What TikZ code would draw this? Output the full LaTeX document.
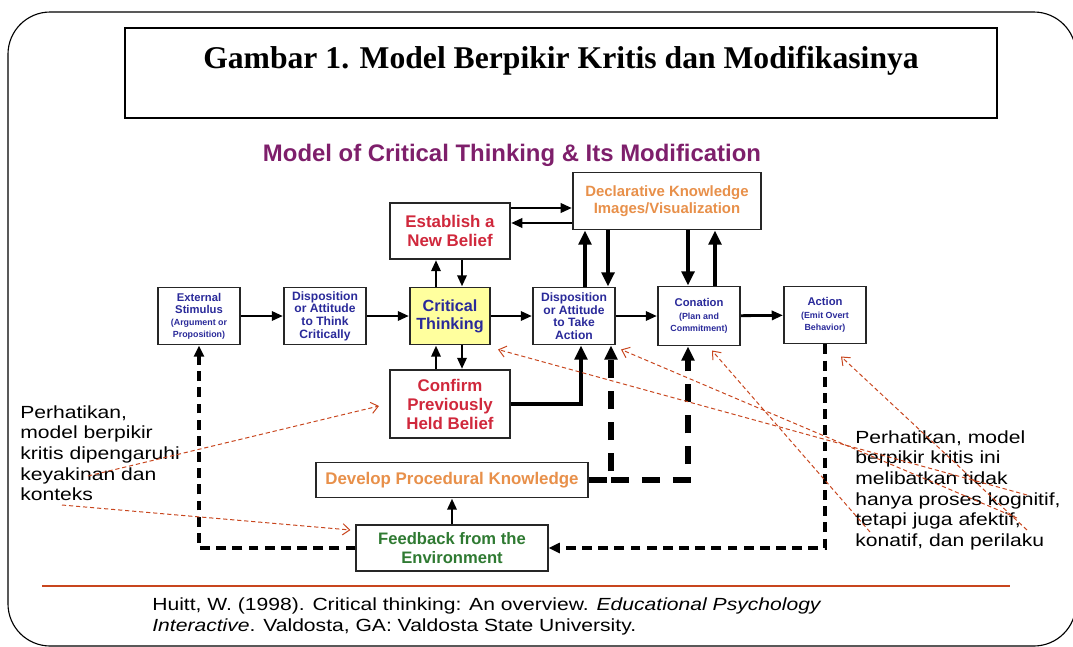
\documentclass[tikz,border=0pt]{standalone}
\usepackage{fontspec}
\setmainfont{Liberation Serif}
\setsansfont{Liberation Sans}
\usetikzlibrary{arrows.meta,calc,positioning}
\definecolor{boxblue}{HTML}{2A2A9A}
\definecolor{boxred}{HTML}{D0283C}
\definecolor{boxorange}{HTML}{E8904A}
\definecolor{boxgreen}{HTML}{2F7A32}
\definecolor{subpurple}{HTML}{7E1F6B}
\definecolor{ctyellow}{HTML}{FFFF9E}
\definecolor{notered}{HTML}{C8461E}
\newcommand{\tinyl}[1]{{\fontsize{6.3}{7}\selectfont #1}}

\begin{document}
\begin{tikzpicture}[x=0.025cm, y=-0.025cm,
  box/.style={draw=black!85, line width=1.4pt, fill=white, align=center, inner sep=1pt},
  sbox/.style={box, minimum width=2.05cm, minimum height=1.425cm, text=boxblue,
    font=\sffamily\bfseries\fontsize{8.6}{9}\selectfont},
  bbox/.style={box, minimum width=3cm, text=boxred,
    font=\sffamily\bfseries\fontsize{12}{13.5}\selectfont},
  arr/.style={line width=2pt, -{Triangle[length=8pt,width=6.5pt]}},
  fat/.style={line width=3.4pt, -{Triangle[length=10pt,width=9pt]}},
  fbloop/.style={line width=2.6pt, dash pattern=on 7pt off 4.5pt, -{Triangle[length=8pt,width=7pt]}},
  pdash/.style={line width=4pt, dash pattern=on 13pt off 9pt, -{Triangle[length=10pt,width=9pt]}},
  note/.style={color=notered, line width=0.7pt, dash pattern=on 3pt off 2pt, -{Straight Barb[length=5pt,width=8pt]}},
  ntext/.style={font=\sffamily\fontsize{12.5}{14.7}\selectfont, align=left, anchor=north west, inner sep=0pt, xscale=1.2}
]
\useasboundingbox (0,0) rectangle (1073,646);
\draw[line width=0.8pt, rounded corners=30] (8,646) rectangle (1076,12);
\draw[line width=1.3pt] (125,28) rectangle (997,118);
\node (title) at (561,61) {\fontsize{22.5}{26}\selectfont\bfseries Gambar 1. Model Berpikir Kritis dan Modifikasinya};
\node[text=subpurple, font=\sffamily\bfseries\fontsize{17}{19}\selectfont] (sub) at (512,155) {Model of Critical Thinking \& Its Modification};

% model boxes
\node[sbox, font=\sffamily\bfseries\fontsize{8}{8.6}\selectfont] (es) at (199,316) {External\\Stimulus\\\tinyl{(Argument or}\\\tinyl{Proposition)}};
\node[sbox] (dt) at (325,316) {Disposition\\or Attitude\\to Think\\Critically};
\node[sbox, minimum width=2cm, fill=ctyellow, font=\sffamily\bfseries\fontsize{11.5}{13}\selectfont] (ct) at (450,316) {Critical\\Thinking};
\node[sbox] (da) at (574,316) {Disposition\\or Attitude\\to Take\\Action};
\node[sbox, minimum height=1.475cm, font=\sffamily\bfseries\fontsize{8}{9}\selectfont] (co) at (699,316) {Conation\\\tinyl{(Plan and}\\\tinyl{Commitment)}};
\node[sbox, font=\sffamily\bfseries\fontsize{8}{9}\selectfont] (ac) at (825,315) {Action\\\tinyl{(Emit Overt}\\\tinyl{Behavior)}};
\node[bbox, minimum height=1.4cm] (eb) at (450,231) {Establish a\\New Belief};
\node[bbox, minimum height=1.7cm] (cb) at (450,404) {Confirm\\Previously\\Held Belief};
\node[box, minimum width=4.7cm, minimum height=1.425cm, text=boxorange,
  font=\sffamily\bfseries\fontsize{10.6}{12.5}\selectfont] (dk) at (667,201) {Declarative Knowledge\\Images/Visualization};
\node[box, minimum width=6.8cm, minimum height=0.875cm, text=boxorange,
  font=\sffamily\bfseries\fontsize{12}{13}\selectfont] (pk) at (452,480) {Develop Procedural Knowledge};
\node[box, minimum width=4.775cm, minimum height=1.15cm, text=boxgreen,
  font=\sffamily\bfseries\fontsize{11.8}{13}\selectfont] (fb) at (452,548) {Feedback from the\\Environment};

% connectors
\draw[arr] (es) -- (dt);
\draw[arr] (dt) -- (ct);
\draw[arr] (ct) -- (da);
\draw[arr] (da) -- (co);
\draw[arr] (co) -- (ac);
\draw[arr] ($(ct.north)+(-14,0)$) -- ($(eb.south)+(-14,0)$);
\draw[arr] ($(eb.south)+(12,0)$) -- ($(ct.north)+(12,0)$);
\draw[arr] ($(cb.north)+(-14,0)$) -- ($(ct.south)+(-14,0)$);
\draw[arr] ($(ct.south)+(12,0)$) -- ($(cb.north)+(12,0)$);
\draw[arr] ($(eb.east)+(0,-23)$) -- ($(dk.west)+(0,7)$);
\draw[arr] ($(dk.west)+(0,22)$) -- ($(eb.east)+(0,-8)$);
\draw[fat] ($(da.north)+(11,0)$) -- ($(dk.south)+(-82,0)$);
\draw[fat] ($(dk.south)+(-59,0)$) -- ($(da.north)+(34,0)$);
\draw[fat] ($(dk.south)+(21,0)$) -- ($(co.north)+(-11,0)$);
\draw[fat] ($(co.north)+(16,0)$) -- ($(dk.south)+(48,0)$);
\draw[fat, line width=2.8pt] (cb.east) -| ($(da.south)+(7,0)$);
\draw[arr] (fb) -- (pk);
\coordinate (pkj) at (611,480);
\draw[pdash] (pk.east) -- (pkj) -- (pkj |- da.south);
\draw[pdash] (pkj) -| ($(co.south)+(-11,0)$);
\draw[fbloop] (ac.south) |- (fb.east);
\draw[fbloop] (fb.west) -| (es.south);

% notes
\node[ntext] (lnote) at (20,405) {Perhatikan,\\model berpikir\\kritis dipengaruhi\\keyakinan dan\\konteks};
\node[ntext] (rnote) at (855,430) {Perhatikan, model\\berpikir kritis ini\\melibatkan tidak\\hanya proses kognitif,\\tetapi juga afektif,\\konatif, dan perilaku};
\coordinate (l1) at (88,476);
\coordinate (l2) at (62,505);
\coordinate (r1) at (1027,495);
\coordinate (r2) at (1017,518);
\coordinate (r3) at (870,532);
\coordinate (r4) at (1027,530);
\draw[note] (l1) -- ($(cb.west)+(-10,2)$);
\draw[note] (l2) -- ($(fb.west)+(-5,-18)$);
\draw[note] (r1) -- ($(ct.south east)+(7,4)$);
\draw[note] (r2) -- ($(da.south east)+(5,4)$);
\draw[note] (r3) -- ($(co.south)+(13,4)$);
\draw[note] (r4) -- ($(ac.south east)+(-26,12)$);

% reference
\draw[notered, line width=1.2pt] (42,586) -- (1010,586);
\node[font=\sffamily\fontsize{12.5}{15.6}\selectfont, align=left, anchor=north west, inner sep=0pt, xscale=1.2] (cite) at (152,597)
  {Huitt, W. (1998). Critical thinking: An overview. \textit{Educational Psychology}\\\textit{Interactive}. Valdosta, GA: Valdosta State University.};
\end{tikzpicture}
\end{document}
